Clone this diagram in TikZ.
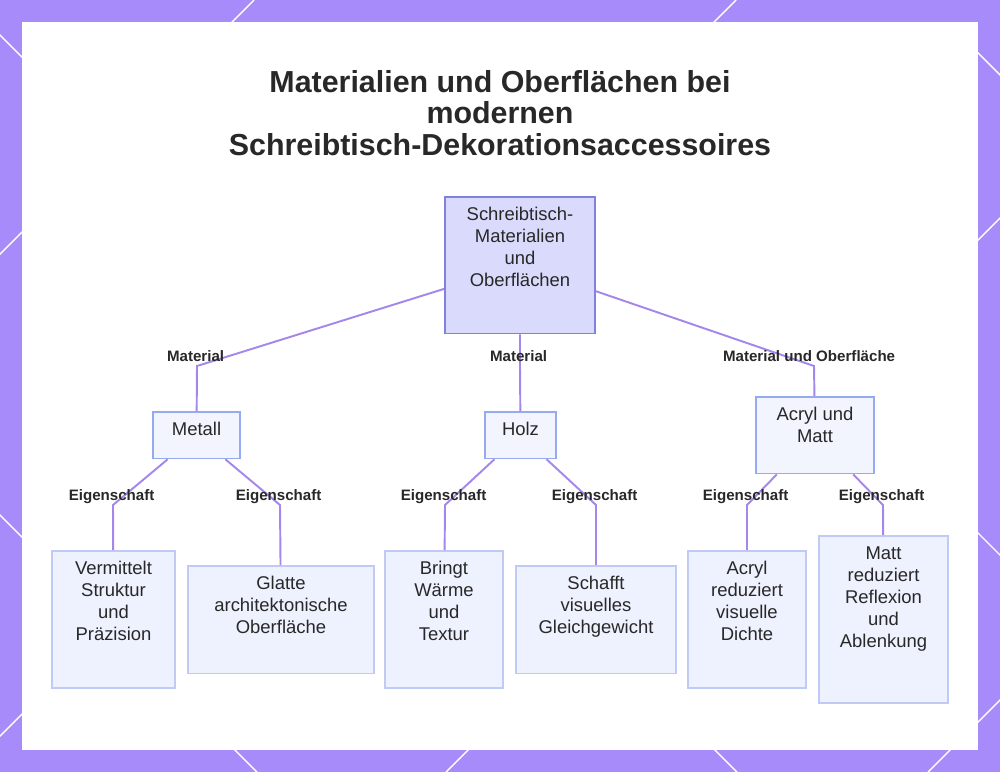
\documentclass[tikz,border=0pt]{standalone}
\usepackage{fontspec}
\setmainfont{Liberation Sans}

\definecolor{frame}{RGB}{167,139,250}
\definecolor{rootfill}{RGB}{218,219,252}
\definecolor{rootline}{RGB}{128,128,222}
\definecolor{midfill}{RGB}{242,244,254}
\definecolor{midline}{RGB}{150,170,240}
\definecolor{leaffill}{RGB}{238,241,254}
\definecolor{leafline}{RGB}{192,202,246}
\definecolor{link}{RGB}{165,135,235}
\definecolor{ink}{RGB}{40,40,40}

\newcommand{\rows}[1]{\begin{tabular}[t]{@{}c@{}}#1\end{tabular}}

\begin{document}
\begin{tikzpicture}
  [x=0.02cm, y=-0.02cm,
   box/.style={draw, anchor=north, inner xsep=2pt, inner ysep=6.2pt,
     text height=7.4pt, font=\fontsize{10.5}{12.5}\selectfont, text=ink,
     line width=0.9pt},
   rootN/.style={box, fill=rootfill, draw=rootline, line width=1.1pt},
   midN/.style={box, fill=midfill, draw=midline},
   leafN/.style={box, fill=leaffill, draw=leafline},
   edge/.style={draw=link, line width=1.1pt},
   elabel/.style={anchor=base, yshift=2.3pt, xshift=-0.8pt,
     font=\bfseries\fontsize{8.6}{10}\selectfont, text=ink}]

  % frame with the white lines
  \fill[frame] (0,0) rectangle (1000,772);
  \begin{scope}
    \clip (0,0) rectangle (1000,772);
    \foreach \c in {254,736,1218,1700}
      \draw[white, line width=0.8pt] (\c,0) -- (\c-772,772);
  \end{scope}
  \begin{scope}
    \clip (0,22) rectangle (1000,772);
    \foreach \c in {-515,-35,445,925}
      \draw[white, line width=0.8pt] (\c,0) -- (\c+772,772);
  \end{scope}
  \fill[white] (22,22) rectangle (978,750);

  % title
  \node[font=\bfseries\fontsize{17.3}{17.9}\selectfont, text=ink, align=center]
    (title) at (500,113)
    {Materialien und Oberflächen bei\\modernen\\Schreibtisch-Dekorationsaccessoires};

  % top
  \node[rootN, minimum width=3cm, text depth=57.9pt] (root) at (520,196)
    {\rows{Schreibtisch-\\Materialien\\und\\Oberflächen}};

  % materials
  \node[midN, minimum width=1.74cm, text depth=6.8pt] (metall) at (196.5,411)
    {\rows{Metall}};
  \node[midN, minimum width=1.42cm, text depth=6.8pt] (holz) at (520.5,411)
    {\rows{Holz}};
  \node[midN, minimum width=2.36cm, text depth=23.9pt] (acryl) at (815,396)
    {\rows{Acryl und\\Matt}};

  % properties
  \node[leafN, minimum width=2.46cm, text depth=58.4pt] (struktur) at (113.5,550)
    {\rows{Vermittelt\\Struktur\\und\\Präzision}};
  \node[leafN, minimum width=3.72cm, text depth=41.4pt] (glatt) at (281,565)
    {\rows{Glatte\\architektonische\\Oberfläche}};
  \node[leafN, minimum width=2.36cm, text depth=58.4pt] (waerme) at (444,550)
    {\rows{Bringt\\Wärme\\und\\Textur}};
  \node[leafN, minimum width=3.2cm, text depth=41.4pt] (balance) at (596,565)
    {\rows{Schafft\\visuelles\\Gleichgewicht}};
  \node[leafN, minimum width=2.36cm, text depth=58.4pt] (dichte) at (747,550)
    {\rows{Acryl\\reduziert\\visuelle\\Dichte}};
  \node[leafN, minimum width=2.58cm, text depth=75.4pt] (reflex) at (883.5,535)
    {\rows{Matt\\reduziert\\Reflexion\\und\\Ablenkung}};

  % bends
  \coordinate (k1) at (197,366);
  \coordinate (k2) at (520,366);
  \coordinate (k3) at (814,366);
  \coordinate (e1) at (113,505);
  \coordinate (e2) at (280,505);
  \coordinate (e3) at (445,505);
  \coordinate (e4) at (596,505);
  \coordinate (e5) at (747,505);
  \coordinate (e6) at (883,505);

  \draw[edge] (root) -- (k1) node[elabel] (t1) {Material} -- (metall);
  \draw[edge] (root) -- (k2) node[elabel] (t2) {Material} -- (holz);
  \draw[edge] (root) -- (k3) node[elabel, xshift=-2pt] (t3) {Material und Oberfläche} -- (acryl);

  \draw[edge] (metall) -- (e1) node[elabel] (t4) {Eigenschaft} -- (struktur);
  \draw[edge] (metall) -- (e2) node[elabel] (t5) {Eigenschaft} -- (glatt);
  \draw[edge] (holz) -- (e3) node[elabel] (t6) {Eigenschaft} -- (waerme);
  \draw[edge] (holz) -- (e4) node[elabel] (t7) {Eigenschaft} -- (balance);
  \draw[edge] (acryl) -- (e5) node[elabel] (t8) {Eigenschaft} -- (dichte);
  \draw[edge] (acryl) -- (e6) node[elabel] (t9) {Eigenschaft} -- (reflex);

  \useasboundingbox (0,0) rectangle (1000,772);
\end{tikzpicture}
\end{document}
